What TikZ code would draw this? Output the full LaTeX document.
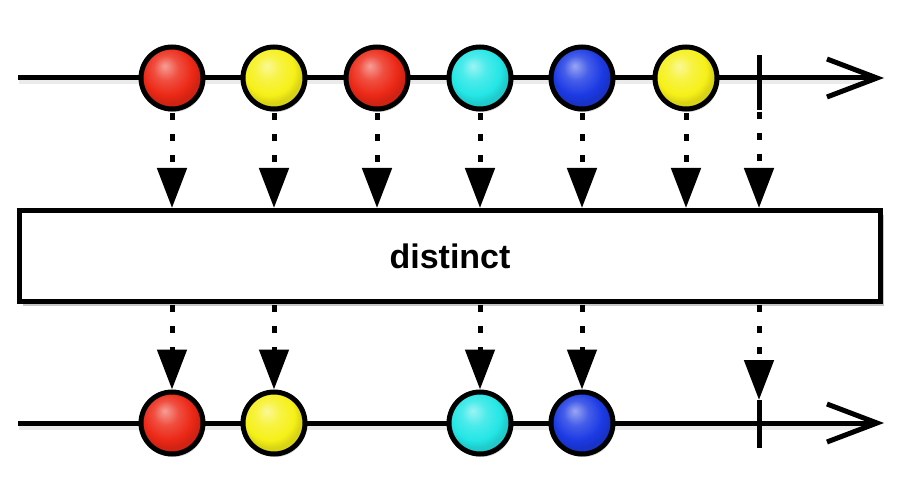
\documentclass[tikz,border=0pt]{standalone}
\usepackage{fontspec}
\setmainfont{Liberation Sans}
\usetikzlibrary{arrows.meta,shadows}
\definecolor{cred}{RGB}{236,40,22}
\definecolor{cyel}{RGB}{246,240,24}
\definecolor{ccyan}{RGB}{36,230,230}
\definecolor{cblue}{RGB}{28,58,228}
\colorlet{ballcol}{red}
\pgfdeclareradialshading[ballcol]{glossy}{\pgfpoint{-6bp}{10bp}}{%
  color(0bp)=(ballcol!45!white); color(10bp)=(ballcol!82!white);
  color(20bp)=(ballcol); color(25bp)=(ballcol!88!black); color(50bp)=(ballcol!88!black)}
\tikzset{
  bc/.code={\colorlet{ballcol}{#1}},
  ball/.style={circle, draw=black, line width=5pt, minimum size=62pt, inner sep=0pt,
    shading=glossy, drop shadow={shadow xshift=1.5pt, shadow yshift=-3pt, fill=black, opacity=0.18}},
  mainline/.style={line width=5pt, -{Straight Barb[length=50pt,width=38pt]}},
  lineshadow/.style={line width=7pt, draw=black, opacity=0.08},
  conn/.style={line width=5pt, dash pattern=on 7pt off 14pt,
    -{Triangle[length=40pt,width=29pt]}},
  termline/.style={line width=5pt},
  opbox/.style={draw=black, fill=white, line width=5pt, minimum width=861pt, minimum height=91pt,
    inner sep=0pt, font=\bfseries\fontsize{34}{40}\selectfont,
    drop shadow={shadow xshift=3pt, shadow yshift=-4pt, fill=black, opacity=0.22}}
}
\begin{document}
\begin{tikzpicture}[x=1pt, y=-1pt]
\useasboundingbox[fill=white] (0,0) rectangle (900,500);
% coordinates
\coordinate (ts) at (18,78);
\coordinate (te) at (884,78);
\coordinate (tt1) at (759,55);
\coordinate (tt2) at (759,110);
\coordinate (bs) at (18,423);
\coordinate (be) at (884,423);
\coordinate (bt1) at (759,400);
\coordinate (bt2) at (759,448);
\coordinate (tss) at (19,81);
\coordinate (tes) at (860,81);
\coordinate (bss) at (19,426);
\coordinate (bes) at (860,426);
% box
\node[opbox] (box) at (450,256) {distinct};
% top timeline
\draw[lineshadow] (tss) -- (tes);
\draw[mainline] (ts) -- (te);
\draw[termline] (tt1) -- (tt2);
\node[ball, bc=cred]  (t1) at (172,78) {};
\node[ball, bc=cyel]  (t2) at (274,78) {};
\node[ball, bc=cred]  (t3) at (377,78) {};
\node[ball, bc=ccyan] (t4) at (480,78) {};
\node[ball, bc=cblue] (t5) at (582,78) {};
\node[ball, bc=cyel]  (t6) at (686,78) {};
% top connectors
\foreach \n in {t1,t2,t3,t4,t5,t6}
  \draw[conn, dash phase=19pt] (\n.south) -- (\n.south |- box.north);
\draw[conn, dash phase=19pt] (tt2) -- (tt2 |- box.north);
% bottom timeline
\draw[lineshadow] (bss) -- (bes);
\draw[mainline] (bs) -- (be);
\draw[termline] (bt1) -- (bt2);
\node[ball, bc=cred]  (b1) at (172,423) {};
\node[ball, bc=cyel]  (b2) at (274,423) {};
\node[ball, bc=ccyan] (b3) at (480,423) {};
\node[ball, bc=cblue] (b4) at (582,423) {};
% bottom connectors
\foreach \n in {b1,b2,b3,b4}
  \draw[conn, dash phase=20pt] (\n.north |- box.south) -- (\n.north);
\draw[conn, dash phase=20pt] (bt1 |- box.south) -- (bt1);
\end{tikzpicture}
\end{document}
